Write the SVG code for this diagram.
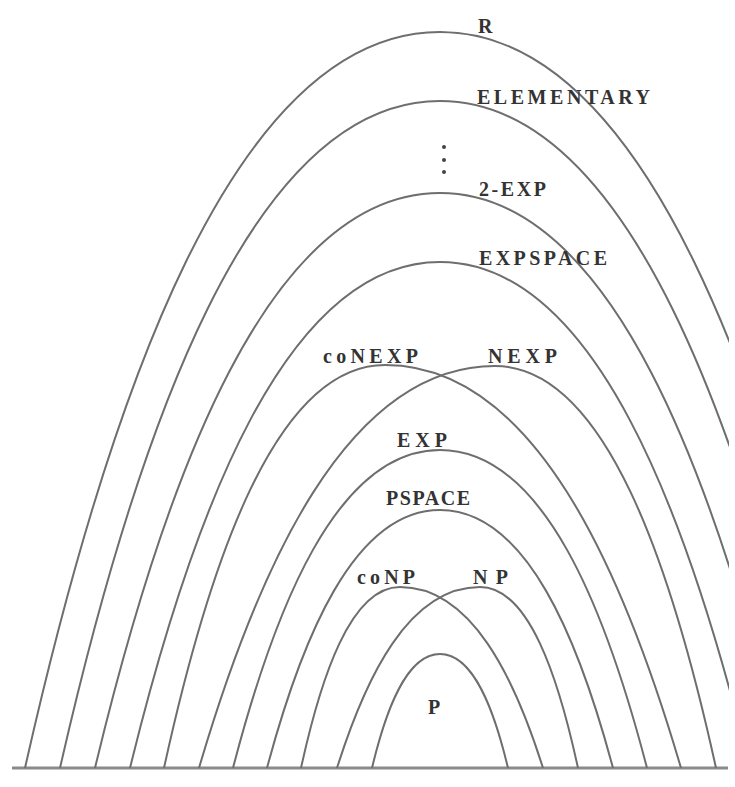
<svg xmlns="http://www.w3.org/2000/svg" width="735" height="787" viewBox="0 0 735 787">
<style>
.arc{fill:none;stroke:#6e6e6e;stroke-width:2}
.lbl{font-family:"Liberation Serif","Times New Roman",serif;font-size:20px;font-weight:bold;fill:#333}
.base{stroke:#8a8a8a;stroke-width:3}
</style>
<defs>
<clipPath id="clip"><rect x="0" y="0" width="729" height="787"/></clipPath>
</defs>
<rect width="735" height="787" fill="#fff"/>
<g id="baseline"><line class="base" x1="12" y1="768" x2="728" y2="768"/></g>
<g id="connectors" clip-path="url(#clip)">
<g id="R"><path class="arc" d="M25,768 C108,400 232.5,32 440,32 C647.5,32 772,400 855,768"/><text class="lbl" x="478" y="33">R</text></g>
<g id="ELEMENTARY"><path class="arc" d="M60,768 C136,434.5 250,101 440,101 C630,101 744,434.5 820,768"/><text class="lbl" x="477" y="104" textLength="173" lengthAdjust="spacing">ELEMENTARY</text></g>
<g id="dots"><circle cx="444" cy="147" r="2" fill="#444"/><circle cx="444" cy="160" r="2" fill="#444"/><circle cx="444" cy="172" r="2" fill="#444"/></g>
<g id="TWOEXP"><path class="arc" d="M95,768 C164,480.5 267.5,193 440,193 C612.5,193 716,480.5 785,768"/><text class="lbl" x="479" y="196" textLength="67" lengthAdjust="spacing">2-EXP</text></g>
<g id="EXPSPACE"><path class="arc" d="M130,768 C192,515 285,262 440,262 C595,262 688,515 750,768"/><text class="lbl" x="479" y="265" textLength="128" lengthAdjust="spacing">EXPSPACE</text></g>
<g id="coNEXP"><path class="arc" d="M164,768 C208.2,566.5 274.5,365 385,365 C533,365 621.8,566.5 681,768"/><text class="lbl" x="323" y="363" textLength="95" lengthAdjust="spacing">coNEXP</text></g>
<g id="NEXP"><path class="arc" d="M199,768 C258.2,567 347,366 495,366 C605.5,366 671.8,567 716,768"/><text class="lbl" x="488" y="363" textLength="69" lengthAdjust="spacing">NEXP</text></g>
<g id="EXP"><path class="arc" d="M233,768 C274.4,609 336.5,450 440,450 C543.5,450 605.6,609 647,768"/><text class="lbl" x="397" y="447" textLength="50" lengthAdjust="spacing">EXP</text></g>
<g id="PSPACE"><path class="arc" d="M267,768 C301.6,639 353.5,510 440,510 C526.5,510 578.4,639 613,768"/><text class="lbl" x="386" y="505" textLength="84" lengthAdjust="spacing">PSPACE</text></g>
<g id="coNP"><path class="arc" d="M301,768 C320.8,677.5 350.5,587 400,587 C471.5,587 514.4,677.5 543,768"/><text class="lbl" x="357" y="584" textLength="58" lengthAdjust="spacing">coNP</text></g>
<g id="NP"><path class="arc" d="M337,768 C365.6,677.5 408.5,587 480,587 C529,587 558.4,677.5 578,768"/><text class="lbl" x="473" y="584" textLength="35" lengthAdjust="spacing">NP</text></g>
<g id="P"><path class="arc" d="M372,768 C385.6,711 406,654 440,654 C474,654 494.4,711 508,768"/><text class="lbl" x="428" y="714">P</text></g>
</g>
</svg>
